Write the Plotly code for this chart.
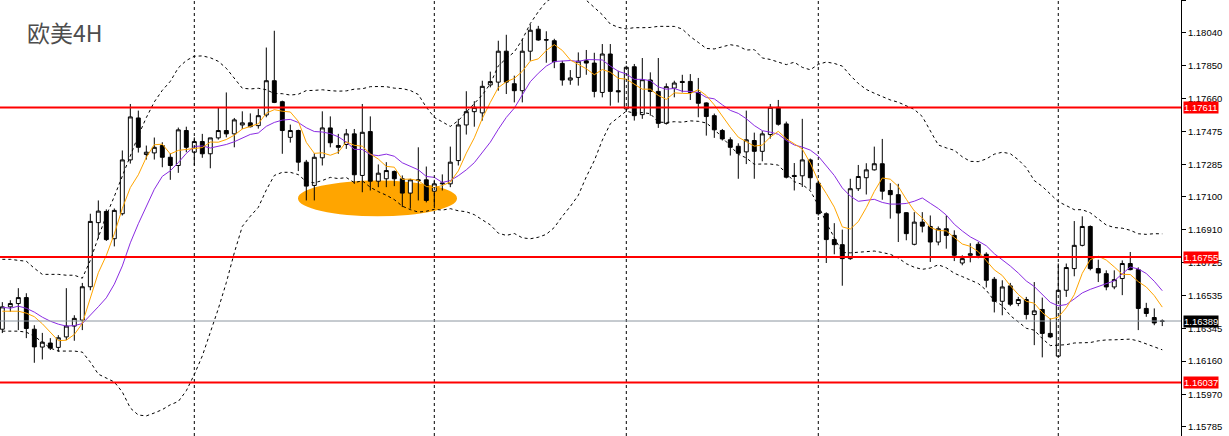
import pandas as pd
import plotly.graph_objects as go

# ---------------- data (EUR/USD 4H) ----------------
opens = [1.16342, 1.16470, 1.16489, 1.16523, 1.16342, 1.16240, 1.16263, 1.16238, 1.16298, 1.16360,
         1.16394, 1.16585, 1.16952, 1.17016, 1.16860, 1.17003, 1.17311, 1.17551, 1.17342, 1.17351,
         1.17393, 1.17326, 1.17279, 1.17479, 1.17355, 1.17416, 1.17346, 1.17437, 1.17479, 1.17460,
         1.17511, 1.17523, 1.17507, 1.17568, 1.17764, 1.17644, 1.17440, 1.17479, 1.17298, 1.17165,
         1.17323, 1.17494, 1.17393, 1.17399, 1.17460, 1.17222, 1.17473, 1.17189, 1.17203, 1.17245,
         1.17203, 1.17121, 1.17197, 1.17197, 1.17132, 1.17174, 1.17174, 1.17307, 1.17511, 1.17587,
         1.17580, 1.17740, 1.17756, 1.17933, 1.17747, 1.17707, 1.17933, 1.18059, 1.17999, 1.17993,
         1.17863, 1.17768, 1.17783, 1.17878, 1.17865, 1.17697, 1.17917, 1.17707, 1.17603, 1.17844,
         1.17570, 1.17768, 1.17703, 1.17520, 1.17722, 1.17760, 1.17760, 1.17697, 1.17637, 1.17564,
         1.17479, 1.17426, 1.17389, 1.17357, 1.17422, 1.17360, 1.17456, 1.17612, 1.17517, 1.17222,
         1.17220, 1.17311, 1.17178, 1.17003, 1.16855, 1.16826, 1.16746, 1.17146, 1.17209, 1.17254,
         1.17289, 1.17136, 1.17112, 1.17009, 1.16828, 1.16955, 1.16930, 1.16841, 1.16917, 1.16879,
         1.16721, 1.16765, 1.16828, 1.16771, 1.16628, 1.16502, 1.16590, 1.16489, 1.16512, 1.16426,
         1.16455, 1.16318, 1.16188, 1.16565, 1.16689, 1.16822, 1.16930, 1.16689, 1.16660, 1.16584,
         1.16632, 1.16718, 1.16683, 1.16461, 1.16409, 1.16387]
highs = [1.16497, 1.16508, 1.16577, 1.16548, 1.16365, 1.16321, 1.16291, 1.16308, 1.16577, 1.16422,
         1.16607, 1.17003, 1.17079, 1.17028, 1.17033, 1.17365, 1.17631, 1.17593, 1.17393, 1.17439,
         1.17412, 1.17349, 1.17496, 1.17501, 1.17440, 1.17460, 1.17437, 1.17608, 1.17697, 1.17551,
         1.17589, 1.17577, 1.17603, 1.17954, 1.18050, 1.17650, 1.17513, 1.17484, 1.17311, 1.17349,
         1.17589, 1.17560, 1.17460, 1.17488, 1.17488, 1.17631, 1.17560, 1.17285, 1.17298, 1.17250,
         1.17222, 1.17203, 1.17383, 1.17273, 1.17197, 1.17228, 1.17387, 1.17546, 1.17704, 1.17647,
         1.17764, 1.17816, 1.17993, 1.18027, 1.17793, 1.18004, 1.18087, 1.18078, 1.18047, 1.18004,
         1.17878, 1.17825, 1.17926, 1.17940, 1.17924, 1.17974, 1.17974, 1.17821, 1.17850, 1.17860,
         1.17894, 1.17812, 1.17894, 1.17749, 1.17764, 1.17798, 1.17802, 1.17780, 1.17640, 1.17576,
         1.17488, 1.17440, 1.17406, 1.17593, 1.17467, 1.17476, 1.17631, 1.17654, 1.17530, 1.17293,
         1.17546, 1.17319, 1.17193, 1.17011, 1.16949, 1.16912, 1.17203, 1.17282, 1.17292, 1.17387,
         1.17431, 1.17178, 1.17174, 1.17012, 1.17012, 1.17012, 1.16993, 1.16930, 1.16993, 1.16908,
         1.16765, 1.16834, 1.16841, 1.16782, 1.16641, 1.16622, 1.16607, 1.16527, 1.16527, 1.16612,
         1.16523, 1.16404, 1.16718, 1.16718, 1.16961, 1.16988, 1.16936, 1.16740, 1.16679, 1.16679,
         1.16736, 1.16784, 1.16696, 1.16493, 1.16461, 1.16398]
lows = [1.16320, 1.16441, 1.16337, 1.16291, 1.16150, 1.16169, 1.16223, 1.16213, 1.16280, 1.16276,
        1.16337, 1.16565, 1.16860, 1.16847, 1.16816, 1.16993, 1.17290, 1.17353, 1.17313, 1.17313,
        1.17269, 1.17197, 1.17237, 1.17355, 1.17279, 1.17323, 1.17263, 1.17427, 1.17440, 1.17383,
        1.17488, 1.17497, 1.17490, 1.17555, 1.17636, 1.17346, 1.17410, 1.17247, 1.17079, 1.17079,
        1.17279, 1.17383, 1.17346, 1.17374, 1.17174, 1.17126, 1.17136, 1.17155, 1.17155, 1.17161,
        1.17041, 1.17032, 1.17079, 1.17068, 1.17050, 1.17136, 1.17155, 1.17279, 1.17456, 1.17501,
        1.17536, 1.17726, 1.17707, 1.17688, 1.17640, 1.17640, 1.17878, 1.17993, 1.17867, 1.17836,
        1.17736, 1.17741, 1.17736, 1.17798, 1.17669, 1.17669, 1.17621, 1.17639, 1.17593, 1.17536,
        1.17546, 1.17564, 1.17494, 1.17513, 1.17669, 1.17697, 1.17654, 1.17555, 1.17450, 1.17437,
        1.17422, 1.17336, 1.17203, 1.17287, 1.17203, 1.17303, 1.17433, 1.17507, 1.17205, 1.17136,
        1.17156, 1.17142, 1.16993, 1.16721, 1.16771, 1.16591, 1.16739, 1.17133, 1.17113, 1.17250,
        1.17083, 1.16975, 1.16841, 1.16851, 1.16822, 1.16896, 1.16727, 1.16822, 1.16803, 1.16732,
        1.16708, 1.16725, 1.16748, 1.16581, 1.16438, 1.16422, 1.16474, 1.16474, 1.16398, 1.16251,
        1.16181, 1.16291, 1.16183, 1.16527, 1.16645, 1.16816, 1.16679, 1.16612, 1.16565, 1.16571,
        1.16537, 1.16679, 1.16337, 1.16413, 1.16365, 1.16360]
closes = [1.16470, 1.16489, 1.16523, 1.16346, 1.16241, 1.16268, 1.16234, 1.16293, 1.16360, 1.16404,
          1.16585, 1.16959, 1.17018, 1.16855, 1.17022, 1.17311, 1.17557, 1.17383, 1.17355, 1.17383,
          1.17326, 1.17279, 1.17483, 1.17383, 1.17416, 1.17346, 1.17437, 1.17479, 1.17460, 1.17540,
          1.17523, 1.17501, 1.17564, 1.17764, 1.17640, 1.17479, 1.17479, 1.17298, 1.17161, 1.17326,
          1.17494, 1.17409, 1.17383, 1.17460, 1.17226, 1.17469, 1.17189, 1.17235, 1.17250, 1.17203,
          1.17121, 1.17197, 1.17193, 1.17079, 1.17174, 1.17178, 1.17298, 1.17511, 1.17587, 1.17612,
          1.17732, 1.17759, 1.17933, 1.17756, 1.17707, 1.17933, 1.18053, 1.17997, 1.17997, 1.17873,
          1.17768, 1.17780, 1.17876, 1.17865, 1.17703, 1.17917, 1.17703, 1.17701, 1.17841, 1.17564,
          1.17770, 1.17703, 1.17520, 1.17730, 1.17751, 1.17754, 1.17697, 1.17635, 1.17559, 1.17483,
          1.17431, 1.17383, 1.17349, 1.17426, 1.17360, 1.17460, 1.17612, 1.17515, 1.17212, 1.17216,
          1.17311, 1.17209, 1.17003, 1.16855, 1.16826, 1.16746, 1.17146, 1.17216, 1.17254, 1.17289,
          1.17132, 1.17112, 1.17007, 1.16889, 1.16955, 1.16932, 1.16841, 1.16917, 1.16879, 1.16765,
          1.16746, 1.16774, 1.16765, 1.16622, 1.16502, 1.16584, 1.16485, 1.16512, 1.16426, 1.16447,
          1.16318, 1.16298, 1.16565, 1.16695, 1.16822, 1.16930, 1.16689, 1.16664, 1.16584, 1.16626,
          1.16718, 1.16683, 1.16461, 1.16432, 1.16378, 1.16389]

# indicator values visible at the left edge (window not yet filled)
ma5_head = [1.16445, 1.16445, 1.16445, 1.16434]
ma10_head = [1.16468, 1.16462, 1.16474, 1.16462, 1.16440, 1.16411, 1.16388, 1.16371, 1.16360]
bb_upper_head = [1.16742, 1.16742, 1.16736, 1.16731, 1.16691, 1.16656, 1.16656, 1.16656, 1.16651, 1.16651,
                 1.16634, 1.16736, 1.16868, 1.16993, 1.17102, 1.17222, 1.17336, 1.17450, 1.17553]
bb_lower_head = [1.16331, 1.16331, 1.16331, 1.16325, 1.16302, 1.16268, 1.16234, 1.16217, 1.16217, 1.16217,
                 1.16211, 1.16154, 1.16085, 1.16063, 1.16040, 1.15983, 1.15891, 1.15851, 1.15846]

resistance_levels = [1.17611, 1.16755, 1.16037]
last_price = 1.16389
separators = [24, 54, 78, 102, 132]
tick_values = [1.18225, 1.18040, 1.17850, 1.17660, 1.17475, 1.17285, 1.17100, 1.16910,
               1.16725, 1.16535, 1.16345, 1.16160, 1.15970, 1.15785]
highlight_zone = dict(x0=36.96, x1=56.84, y0=1.16988, y1=1.17193)
title_text = "欧美4H"

# ---------------- indicators ----------------
idx = list(range(len(closes)))
c = pd.Series(closes)
ma5 = c.rolling(5).mean().tolist()
ma10 = c.rolling(10).mean().tolist()
mid = c.rolling(20).mean()
sd = c.rolling(20).std(ddof=0)
bb_up = (mid + 2 * sd).tolist()
bb_lo = (mid - 2 * sd).tolist()
ma5[:len(ma5_head)] = ma5_head
ma10[:len(ma10_head)] = ma10_head
bb_up[:len(bb_upper_head)] = bb_upper_head
bb_lo[:len(bb_lower_head)] = bb_lower_head

fig = go.Figure()
fig.add_trace(go.Candlestick(
    x=idx, open=opens, high=highs, low=lows, close=closes,
    increasing=dict(line=dict(color="black", width=1), fillcolor="white"),
    decreasing=dict(line=dict(color="black", width=1), fillcolor="black"),
    whiskerwidth=0, hoverinfo="skip", showlegend=False))
for band in (bb_up, bb_lo):
    fig.add_trace(go.Scatter(x=idx, y=band, mode="lines",
                             line=dict(color="black", width=1, dash="3px,3px"),
                             hoverinfo="skip", showlegend=False))
fig.add_trace(go.Scatter(x=idx, y=ma10, mode="lines", line=dict(color="#8a2be2", width=1),
                         hoverinfo="skip", showlegend=False))
fig.add_trace(go.Scatter(x=idx, y=ma5, mode="lines", line=dict(color="#ffa500", width=1),
                         hoverinfo="skip", showlegend=False))

shapes = [dict(type="circle", xref="x", yref="y", layer="below",
               fillcolor="#ffa500", line=dict(width=0), **highlight_zone)]
for s in separators:
    shapes.append(dict(type="line", xref="x", yref="paper", x0=s, x1=s, y0=0, y1=1,
                       line=dict(color="black", width=1, dash="3px,3px")))
shapes.append(dict(type="line", xref="paper", yref="y", x0=0, x1=1, y0=last_price, y1=last_price,
                   line=dict(color="#8c96a0", width=1)))
for lv in resistance_levels:
    shapes.append(dict(type="line", xref="paper", yref="y", x0=0, x1=1, y0=lv, y1=lv,
                       line=dict(color="#ff0000", width=2)))

annotations = [dict(text=title_text, xref="paper", yref="paper", x=25 / 1181, y=1 - 32 / 436,
                    xanchor="left", yanchor="middle", showarrow=False,
                    font=dict(family="Noto Sans CJK SC", size=23, color="#4d4d4d"))]
for lv in resistance_levels:
    annotations.append(dict(text=f"{lv:.5f}", xref="paper", yref="y", x=1, y=lv, xanchor="left",
                            yanchor="middle", xshift=2, showarrow=False, bgcolor="#ff0000",
                            borderpad=0, font=dict(family="Liberation Sans", size=9.5, color="white")))
annotations.append(dict(text=f"{last_price:.5f}", xref="paper", yref="y", x=1, y=last_price,
                        xanchor="left", yanchor="middle", xshift=2, showarrow=False, bgcolor="black",
                        borderpad=0, font=dict(family="Liberation Sans", size=9.5, color="white")))

fig.update_layout(
    width=1229, height=436,
    margin=dict(l=0, r=48, t=0, b=0),
    paper_bgcolor="white", plot_bgcolor="white",
    shapes=shapes, annotations=annotations,
    showlegend=False, hovermode=False,
    xaxis=dict(range=[-0.29, 147.34], visible=False, showgrid=False, zeroline=False,
               rangeslider=dict(visible=False), fixedrange=True),
    yaxis=dict(range=[1.15731, 1.18226], side="right", showgrid=False, zeroline=False,
               showline=True, linecolor="black", linewidth=1, ticks="outside", ticklen=4,
               tickcolor="black", tickvals=tick_values,
               ticktext=[f"{v:.5f}" for v in tick_values],
               tickfont=dict(family="Liberation Sans", size=9.5, color="black"), fixedrange=True),
)
fig.write_html("out.html", config={"displayModeBar": False},
               post_script="document.body.style.margin='0px';document.body.style.overflow='hidden';")
